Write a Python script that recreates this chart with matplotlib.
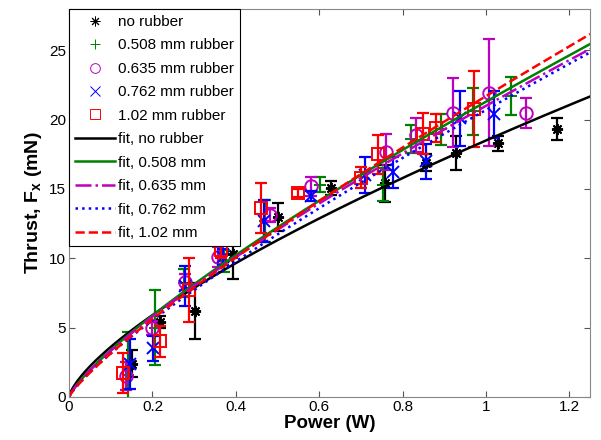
import numpy as np
import matplotlib.pyplot as plt
from matplotlib.lines import Line2D

plt.rcParams['font.family'] = ['Liberation Sans', 'DejaVu Sans']
plt.rcParams['mathtext.fontset'] = 'custom'
plt.rcParams['mathtext.rm'] = 'Liberation Sans'
plt.rcParams['mathtext.bf'] = 'Liberation Sans:bold'

# measured thrust (mN) vs power (W), with error half-widths
p_none = [0.150, 0.218, 0.302, 0.394, 0.500, 0.629, 0.757, 0.857, 0.929, 1.028, 1.170]
f_none = [2.4, 5.4, 6.2, 10.3, 13.0, 15.1, 15.4, 16.9, 17.6, 18.3, 19.3]
e_none = [1.0, 0.4, 2.05, 1.8, 1.0, 0.5, 1.35, 0.6, 1.2, 0.55, 0.8]

p_508 = [0.142, 0.206, 0.276, 0.372, 0.470, 0.601, 0.753, 0.820, 0.893, 0.968, 1.060]
f_508 = [1.6, 5.0, 8.2, 9.8, 12.7, 15.3, 15.3, 18.6, 19.3, 20.6, 21.7]
e_508 = [3.1, 2.7, 1.0, 0.8, 1.5, 0.55, 1.2, 1.0, 1.1, 1.7, 1.35]

p_635 = [0.137, 0.198, 0.278, 0.358, 0.481, 0.581, 0.761, 0.833, 0.920, 1.007, 1.096]
f_635 = [1.5, 5.0, 8.3, 10.1, 13.1, 15.2, 17.7, 18.9, 20.5, 21.95, 20.5]
e_635 = [1.0, 0.5, 0.6, 0.7, 0.5, 0.7, 1.3, 1.2, 2.5, 3.85, 1.1]

p_762 = [0.146, 0.202, 0.278, 0.370, 0.467, 0.581, 0.709, 0.777, 0.857, 0.937, 1.020]
f_762 = [2.4, 3.5, 8.0, 10.1, 12.7, 14.5, 16.0, 16.2, 17.0, 20.1, 20.4]
e_762 = [1.8, 0.9, 1.45, 0.6, 1.5, 0.35, 1.3, 1.1, 1.25, 2.0, 1.7]

p_102 = [0.130, 0.218, 0.288, 0.365, 0.461, 0.549, 0.701, 0.741, 0.849, 0.880, 0.972]
f_102 = [1.75, 4.0, 7.7, 10.6, 13.6, 14.7, 15.8, 17.5, 19.0, 19.4, 20.75]
e_102 = [1.45, 1.1, 2.3, 0.6, 1.8, 0.3, 0.75, 1.4, 1.45, 1.0, 2.75]

# power-law fits F = a * P^b
fit_a = [18.5, 21.3, 21.0, 20.7, 21.7]
fit_b = [0.71, 0.80, 0.80, 0.82, 0.84]

labels = ['no rubber', '0.508 mm rubber', '0.635 mm rubber', '0.762 mm rubber', '1.02 mm rubber']
fit_labels = ['fit, no rubber', 'fit, 0.508 mm', 'fit, 0.635 mm', 'fit, 0.762 mm', 'fit, 1.02 mm']
colors = ['black', '#008000', '#bf00bf', '#0000ff', '#ff0000']
markers = [(8, 2, 0), '+', 'o', 'x', 's']
sizes = [8, 9, 9, 8, 8]
linestyles = ['-', '-', '-.', ':', '--']

series = [(p_none, f_none, e_none), (p_508, f_508, e_508), (p_635, f_635, e_635),
          (p_762, f_762, e_762), (p_102, f_102, e_102)]

fig = plt.figure(figsize = (6.01, 4.40), dpi = 100)
ax = fig.add_axes([0.115, 0.098, 0.867, 0.882])

for (p, f, e), c, m, s in zip(series, colors, markers, sizes):
    ax.errorbar(p, f, yerr = e, fmt = 'none', ecolor = c, elinewidth = 1.6, capsize = 4, capthick = 1.6)
    ax.plot(p, f, ls = 'none', marker = m, color = c, ms = s, mfc = 'none', mew = 1.4)

power = np.linspace(0, 1.25, 300)
for a, b, c, ls in zip(fit_a, fit_b, colors, linestyles):
    ax.plot(power, a * power ** b, color = c, ls = ls, lw = 1.8)

handles = []
for c, m, lab in zip(colors, markers, labels):
    handles.append(Line2D([], [], ls = 'none', marker = m, color = c, mfc = 'none', ms = 7, mew = 0.7, label = lab))
for c, ls, lab in zip(colors, linestyles, fit_labels):
    handles.append(Line2D([], [], ls = ls, color = c, lw = 1.8, label = lab))

leg = ax.legend(handles = handles, loc = 'upper left', fontsize = 11, borderaxespad = 0,
                handlelength = 2.6, handletextpad = 0.2, labelspacing = 0.62, fancybox = False,
                framealpha = 1, borderpad = 0.4)
leg.get_frame().set_edgecolor('black')
leg.get_frame().set_linewidth(0.8)

ax.set_xlim(0, 1.25)
ax.set_ylim(0, 28)
ax.set_xticks([0, 0.2, 0.4, 0.6, 0.8, 1, 1.2])
ax.set_xticklabels(['0', '0.2', '0.4', '0.6', '0.8', '1', '1.2'])
ax.set_yticks([0, 5, 10, 15, 20, 25])
ax.tick_params(direction = 'in', top = True, right = True, labelsize = 11, length = 4, pad = 2, color = '#555555')
for s in ax.spines.values():
    s.set_color('#888888')

ax.set_xlabel('Power (W)', fontsize = 13.5, fontweight = 'bold', labelpad = 1)
ax.set_ylabel(r'Thrust, F$_{\mathbf{x}}$ (mN)', fontsize = 14, fontweight = 'bold', labelpad = 4)

fig.savefig('out.png', dpi = 100)
